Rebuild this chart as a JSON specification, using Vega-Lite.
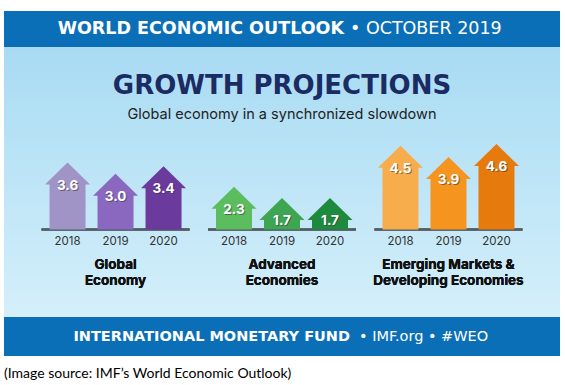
{
  "$schema": "https://vega.github.io/schema/vega-lite/v6.json",
  "padding": {"left": 4, "top": 11, "right": 5, "bottom": 0},
  "background": "white",
  "config": {"view": {"stroke": null}, "font": "Inter"},
  "spacing": 0,
  "title": {"text": "(Image source: IMF’s World Economic Outlook)", "orient": "bottom", "anchor": "start", "font": "Lato", "fontSize": 14, "fontWeight": "normal", "color": "#000000", "offset": 11},
  "vconcat": [
    {
      "width": 556,
      "height": 36,
      "view": {"fill": "#0b6fb8", "stroke": null},
      "data": {"values": [{"a": "WORLD ECONOMIC OUTLOOK", "b": "• OCTOBER 2019"}]},
      "layer": [
        {"mark": {"type": "text", "align": "right", "baseline": "middle", "dx": 62, "font": "DejaVu Sans", "fontSize": 17.5, "fontWeight": "bold", "color": "white"}, "encoding": {"text": {"field": "a"}}},
        {"mark": {"type": "text", "align": "left", "baseline": "middle", "dx": 68, "font": "DejaVu Sans", "fontSize": 17.5, "fontWeight": "normal", "color": "white"}, "encoding": {"text": {"field": "b"}}}
      ]
    },
    {
      "width": 556,
      "height": 270,
      "view": {"stroke": null, "fill": {"gradient": "linear", "x1": 0, "y1": 0, "x2": 0, "y2": 1, "stops": [{"offset": 0, "color": "#a8dbf3"}, {"offset": 1, "color": "#d4effa"}]}},
      "title": {"text": "GROWTH PROJECTIONS", "subtitle": "Global economy in a synchronized slowdown", "anchor": "middle", "orient": "top", "offset": -74, "font": "DejaVu Sans", "fontSize": 26, "fontWeight": "bold", "color": "#1b2b63", "subtitleFontSize": 14.5, "subtitleColor": "#222222", "subtitlePadding": 9, "subtitleFont": "Inter"},
      "data": {"values": [
        {"group": "Global", "label": "Global\nEconomy", "year": "2018", "id": "G2018", "value": 3.6},
        {"group": "Global", "label": "Global\nEconomy", "year": "2019", "id": "G2019", "value": 3.0},
        {"group": "Global", "label": "Global\nEconomy", "year": "2020", "id": "G2020", "value": 3.4},
        {"group": "Advanced", "label": "Advanced\nEconomies", "year": "2018", "id": "A2018", "value": 2.3},
        {"group": "Advanced", "label": "Advanced\nEconomies", "year": "2019", "id": "A2019", "value": 1.7},
        {"group": "Advanced", "label": "Advanced\nEconomies", "year": "2020", "id": "A2020", "value": 1.7},
        {"group": "Emerging", "label": "Emerging Markets &\nDeveloping Economies", "year": "2018", "id": "E2018", "value": 4.5},
        {"group": "Emerging", "label": "Emerging Markets &\nDeveloping Economies", "year": "2019", "id": "E2019", "value": 3.9},
        {"group": "Emerging", "label": "Emerging Markets &\nDeveloping Economies", "year": "2020", "id": "E2020", "value": 4.6}
      ]},
      "encoding": {
        "x": {"field": "group", "type": "nominal", "sort": ["Global", "Advanced", "Emerging"], "scale": {"paddingInner": 0.12, "paddingOuter": 0.23}, "axis": null}
      },
      "layer": [
        {
          "mark": {"type": "tick", "orient": "horizontal", "size": 148, "thickness": 2, "color": "#4f5a62", "opacity": 1},
          "encoding": {"y": {"datum": 0, "type": "quantitative", "scale": {"domain": [-4.7, 9.81], "nice": false, "zero": false}, "axis": null}}
        },
        {
          "mark": {"type": "bar", "yOffset": 21, "y2Offset": 0},
          "encoding": {
            "xOffset": {"field": "year", "type": "nominal", "scale": {"paddingInner": 0.25, "paddingOuter": 0.151}},
            "y": {"field": "value", "type": "quantitative", "scale": {"domain": [-4.7, 9.81], "nice": false, "zero": false}, "axis": null},
            "y2": {"datum": 0},
            "color": {"field": "id", "type": "nominal", "legend": null, "scale": {"domain": ["G2018", "G2019", "G2020", "A2018", "A2019", "A2020", "E2018", "E2019", "E2020"], "range": ["#a093c5", "#8a68bf", "#6a3a9d", "#5cbd5f", "#3ea553", "#1e8a3e", "#f8ad4c", "#f5941e", "#e77a0d"]}}
          }
        },
        {
          "mark": {"type": "point", "shape": "M0,0L1,0.98L-1,0.98Z", "size": 2025, "filled": true, "opacity": 1, "strokeWidth": 0},
          "encoding": {
            "xOffset": {"field": "year", "type": "nominal", "scale": {"paddingInner": 0.25, "paddingOuter": 0.151}},
            "y": {"field": "value", "type": "quantitative", "scale": {"domain": [-4.7, 9.81], "nice": false, "zero": false}},
            "color": {"field": "id", "type": "nominal", "legend": null}
          }
        },
        {
          "mark": {"type": "text", "baseline": "middle", "dy": 24, "dx": 1, "fontSize": 13.5, "fontWeight": "bold", "color": "#333333", "opacity": 0.55},
          "encoding": {
            "xOffset": {"field": "year", "type": "nominal", "scale": {"paddingInner": 0.25, "paddingOuter": 0.151}},
            "y": {"field": "value", "type": "quantitative", "scale": {"domain": [-4.7, 9.81], "nice": false, "zero": false}},
            "text": {"field": "value", "type": "quantitative", "format": ".1f"}
          }
        },
        {
          "mark": {"type": "text", "baseline": "middle", "dy": 23, "fontSize": 13.5, "fontWeight": "bold", "color": "white"},
          "encoding": {
            "xOffset": {"field": "year", "type": "nominal", "scale": {"paddingInner": 0.25, "paddingOuter": 0.151}},
            "y": {"field": "value", "type": "quantitative", "scale": {"domain": [-4.7, 9.81], "nice": false, "zero": false}},
            "text": {"field": "value", "type": "quantitative", "format": ".1f"}
          }
        },
        {
          "mark": {"type": "text", "baseline": "middle", "dy": 12, "fontSize": 11.5, "color": "#333333"},
          "encoding": {
            "xOffset": {"field": "year", "type": "nominal", "scale": {"paddingInner": 0.25, "paddingOuter": 0.151}},
            "y": {"datum": 0, "type": "quantitative", "scale": {"domain": [-4.7, 9.81], "nice": false, "zero": false}},
            "text": {"field": "year"}
          }
        },
        {
          "mark": {"type": "text", "baseline": "top", "dy": 28, "fontSize": 13.5, "fontWeight": "bold", "color": "#111111", "lineBreak": "\n", "lineHeight": 16.5},
          "encoding": {
            "y": {"datum": 0, "type": "quantitative", "scale": {"domain": [-4.7, 9.81], "nice": false, "zero": false}},
            "text": {"field": "label"}
          }
        }
      ]
    },
    {
      "width": 556,
      "height": 39,
      "view": {"fill": "#0b6fb8", "stroke": null},
      "data": {"values": [{"a": "INTERNATIONAL MONETARY FUND", "b": "• IMF.org • #WEO"}]},
      "layer": [
        {"mark": {"type": "text", "align": "right", "baseline": "middle", "dx": 68, "font": "DejaVu Sans", "fontSize": 14.5, "fontWeight": "bold", "color": "white"}, "encoding": {"text": {"field": "a"}}},
        {"mark": {"type": "text", "align": "left", "baseline": "middle", "dx": 77, "font": "DejaVu Sans", "fontSize": 14.5, "fontWeight": "normal", "color": "white"}, "encoding": {"text": {"field": "b"}}}
      ]
    }
  ]
}
